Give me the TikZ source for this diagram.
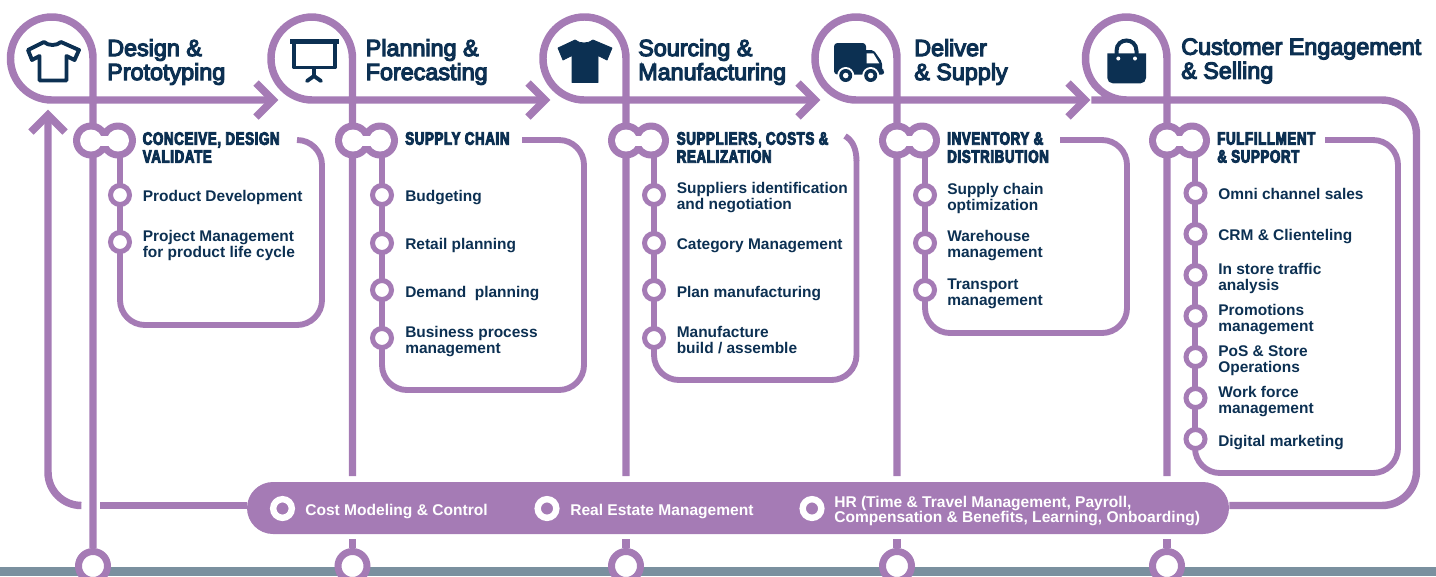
\documentclass[tikz,border=0pt]{standalone}
\usepackage{fontspec}
\setmainfont{Liberation Sans}
\newfontfamily\titlef{Liberation Sans}[FakeBold=5]
\newfontfamily\itemf{Liberation Sans}[UprightFont=* Bold]
\newfontfamily\headf{Liberation Sans}[UprightFont=* Bold,FakeStretch=0.74,FakeBold=5,LetterSpace=3.5]
\definecolor{pur}{HTML}{A57BB5}
\definecolor{navy}{HTML}{0C3052}
\definecolor{band}{HTML}{7A909F}
\tikzset{
  mainline/.style={draw=pur,line width=5.6pt,line join=miter},
  boxline/.style={draw=pur,line width=4.4pt,rounded corners=18.75pt},
  chevron/.style={draw=pur,line width=5.6pt,miter limit=4},
  ringnode/.style={circle,draw=pur,fill=white,line width=3.75pt,minimum size=14.25pt,inner sep=0pt},
  footring/.style={circle,draw=pur,fill=white,line width=5.25pt,minimum size=21.75pt,inner sep=0pt},
  pillring/.style={circle,draw=white,fill=pur,line width=4.8pt,minimum size=14pt,inner sep=0pt},
  pillbox/.style={fill=pur,rounded corners=19.5pt,minimum width=736.5pt,minimum height=39pt,inner sep=0pt},
  titletext/.style={anchor=west,inner sep=0pt,align=left,text=navy,font=\titlef\fontsize{17.5}{18}\selectfont},
  headtext/.style={anchor=west,inner sep=0pt,align=left,text=navy,font=\headf\fontsize{13.5}{13.5}\selectfont},
  itemtext/.style={anchor=west,inner sep=0pt,align=left,text=navy,font=\itemf\fontsize{11.6}{12}\selectfont},
  pilltext/.style={anchor=west,inner sep=0pt,align=left,text=white,font=\itemf\fontsize{11.67}{10.5}\selectfont},
  iconline/.style={draw=navy,line width=2.9pt,line join=round,line cap=round},
  iconfill/.style={fill=navy,draw=navy,line width=.6pt,line join=round},
}
\newcommand{\eightloop}[2]{%
  \fill[pur] (#1,140.5) circle[radius=18] (#2,140.5) circle[radius=18];
  \fill[pur] (#1,131) rectangle (#2,150);
  \fill[white] (#1,140.5) circle[radius=11] (#2,140.5) circle[radius=11];
  \fill[white] (#1,135.5) rectangle (#2,145.5);
}
\begin{document}
\begin{tikzpicture}[x=.75pt,y=-.75pt]
\useasboundingbox (0,0) rectangle (1436,576);
\fill[band] (0,567) rectangle (1436,576);

% pill and foot rings
\node[pillbox] (pill) at (738,508) {};
\foreach \n/\x in {a/93,b/352.5,c/626,d/897,e/1167}
  \node[footring] (f\n) at (\x,566) {};

% free ends
\coordinate (t1) at (273,100); \coordinate (t2) at (545,100);
\coordinate (t3) at (815,100); \coordinate (t4) at (1085,100);
\coordinate (up) at (48,115);
\coordinate (retL) at (100,505.5); \coordinate (retR) at (81,505.5);

% stage 1
\draw[mainline] (t1) -- (52,100) [rounded corners=31pt] -- (10.5,100) -- (10.5,17) -- (93,17) [rounded corners=0pt] -- (93,100) -- (fa.north);
% stage 2
\draw[mainline] (t2) -- (312,100) [rounded corners=31pt] -- (271,100) -- (271,17) -- (352.5,17) [rounded corners=0pt] -- (352.5,100) -- (352.5,476);
\draw[mainline] (352.5,539) -- (fb.north);
% stage 3
\draw[mainline] (t3) -- (585,100) [rounded corners=31pt] -- (543,100) -- (543,17) -- (626,17) [rounded corners=0pt] -- (626,100) -- (626,476);
\draw[mainline] (626,539) -- (fc.north);
% stage 4
\draw[mainline] (t4) -- (856,100) [rounded corners=31pt] -- (815,100) -- (815,17) -- (897,17) [rounded corners=0pt] -- (897,100) -- (897,476);
\draw[mainline] (897,539) -- (fd.north);
% stage 5 and return
\draw[mainline] (pill.east |- 0,505.5) [rounded corners=26pt] -- (1416.5,505.5) -- (1416.5,100) -- (1126,100) [rounded corners=31pt] -- (1085.5,100) -- (1085.5,17) -- (1167,17) [rounded corners=0pt] -- (1167,100) -- (1167,476);
\draw[mainline] (1167,539) -- (fe.north);
\draw[mainline] (pill.west |- 0,505.5) -- (retL);
\draw[mainline,rounded corners=25pt] (retR) -- (48,505.5) -- (up);

% arrow heads
\draw[chevron] (256,83) -- (t1) -- (256,117);
\draw[chevron] (528,83) -- (t2) -- (528,117);
\draw[chevron] (798,83) -- (t3) -- (798,117);
\draw[chevron] (1068,83) -- (t4) -- (1068,117);
\draw[chevron] (31,132) -- (up) -- (65,132);

% boxes
\draw[boxline] (297,140) -- (322,140) -- (322,325) -- (120,325) -- (120,150);
\draw[boxline] (522,140) -- (584,140) -- (584,390) -- (382,390) -- (382,150);
\draw[boxline] (856.5,160) -- (856.5,380) -- (654,380) -- (654,150);
\draw[draw=pur,line width=4.4pt] (845,136) .. controls (852,140) and (856.5,148) .. (856.5,161);
\draw[boxline] (1060,140) -- (1127,140) -- (1127,333) -- (925,333) -- (925,150);
\draw[boxline] (1325,140) -- (1398,140) -- (1398,473) -- (1195,473) -- (1195,150);

% figure-eight loops
\eightloop{91}{118}
\eightloop{353}{380}
\eightloop{626}{651}
\eightloop{897}{922}
\eightloop{1167}{1192}

% rings on boxes
\foreach \n/\y in {1/195,2/242} \node[ringnode] (ra\n) at (120,\y) {};
\foreach \n/\y in {1/195,2/243,3/290,4/338} \node[ringnode] (rb\n) at (382,\y) {};
\foreach \n/\y in {1/195,2/243,3/290,4/338} \node[ringnode] (rc\n) at (654,\y) {};
\foreach \n/\y in {1/195,2/243,3/290} \node[ringnode] (rd\n) at (925,\y) {};
\foreach \n/\y in {1/193,2/234,3/275,4/316,5/357,6/398,7/439} \node[ringnode] (re\n) at (1195.5,\y) {};

% icon 1: outlined shirt
\draw[iconline] (28,50) -- (44,42) .. controls (48,46) and (57,46) .. (61,42) -- (79,50) -- (74.5,60) -- (66.5,56) -- (66.5,80.5) -- (39.5,80.5) -- (39.5,56) -- (32,60) -- cycle;
% icon 2: presentation board
\fill[navy] (289.5,39) rectangle (339,43.5);
\draw[iconline,line cap=butt] (294,43) -- (294,67.5) -- (335,67.5) -- (335,43);
\draw[iconline] (314,68) -- (314,76) (307,81) -- (314,76) -- (321,81);
% icon 3: solid shirt
\fill[iconfill] (558,48) -- (575,40) .. controls (580,44) and (588,44) .. (593,40) -- (612,48) -- (607,60) -- (598,55.5) -- (598,82.5) -- (572,82.5) -- (572,55.5) -- (563,60) -- cycle;
% icon 4: truck
\fill[navy,rounded corners=2.5pt] (834,43) rectangle (866,74.5);
\fill[navy,rounded corners=1.5pt] (864,50) -- (873.5,50) -- (882,62) -- (882,70) -- (884,70) -- (884,74.5) -- (864,74.5) -- cycle;
\fill[white] (866.7,53.3) -- (873.3,53.3) -- (879.3,63.3) -- (866.7,63.3) -- cycle;
\fill[white] (845.7,75.5) circle[radius=8.5] (870.7,75.5) circle[radius=8.5];
\fill[navy] (845.7,75.5) circle[radius=6.5] (870.7,75.5) circle[radius=6.5];
\fill[white] (845.7,75.5) circle[radius=2.8] (870.7,75.5) circle[radius=2.8];
% icon 5: bag
\draw[navy,line width=3pt] (1116.5,54) -- (1116.5,51) .. controls (1116.5,37) and (1136.5,37) .. (1136.5,51) -- (1136.5,54);
\fill[navy,rounded corners=4pt] (1107.3,53.3) [sharp corners] -- (1146,53.3) [rounded corners=4pt] -- (1146,83.3) -- (1107.3,83.3) [sharp corners] -- cycle;
\fill[white] (1118.3,58.5) circle[radius=2] (1135,58.5) circle[radius=2];

% titles
\node[titletext] (h1) at (107,62) {Design \&\\Prototyping};
\node[titletext] (h2) at (365.5,62) {Planning \&\\Forecasting};
\node[titletext] (h3) at (638,62) {Sourcing \&\\Manufacturing};
\node[titletext] (h4) at (914,62) {Deliver\\\& Supply};
\node[titletext] (h5) at (1181,61) {Customer Engagement\\\& Selling};

% headings
\node[headtext] (s1) at (142.5,147.5) {CONCEIVE, DESIGN\\VALIDATE};
\node[headtext] (s2) at (405,138.5) {SUPPLY CHAIN};
\node[headtext] (s3) at (676.5,147.5) {SUPPLIERS, COSTS \&\\REALIZATION};
\node[headtext] (s4) at (947,147.5) {INVENTORY \&\\DISTRIBUTION};
\node[headtext] (s5) at (1217,147.5) {FULFILLMENT\\\& SUPPORT};

% items
\node[itemtext] (a1) at (142.5,197.5) {Product Development};
\node[itemtext] (a2) at (142.5,245) {Project Management\\for product life cycle};
\node[itemtext] (b1) at (405,197.5) {Budgeting};
\node[itemtext] (b2) at (405,245.5) {Retail planning};
\node[itemtext] (b3) at (405,294) {Demand\ \ planning};
\node[itemtext] (b4) at (405,342) {Business process\\management};
\node[itemtext] (c1) at (676.5,198) {Suppliers identification\\and negotiation};
\node[itemtext] (c2) at (676.5,245.5) {Category Management};
\node[itemtext] (c3) at (676.5,294) {Plan manufacturing};
\node[itemtext] (c4) at (676.5,340) {Manufacture\\build / assemble};
\node[itemtext] (d1) at (947,198) {Supply chain\\optimization};
\node[itemtext] (d2) at (947,246) {Warehouse\\management};
\node[itemtext] (d3) at (947,294) {Transport\\management};
\node[itemtext] (e1) at (1218,194) {Omni channel sales};
\node[itemtext] (e2) at (1218,236.5) {CRM \& Clienteling};
\node[itemtext] (e3) at (1218,278) {In store traffic\\analysis};
\node[itemtext] (e4) at (1218,320) {Promotions\\management};
\node[itemtext] (e5) at (1218,361) {PoS \& Store\\Operations};
\node[itemtext] (e6) at (1218,402) {Work force\\management};
\node[itemtext] (e7) at (1218,443) {Digital marketing};

% pill contents
\node[pillring] (p1) at (282.5,508.5) {};
\node[pillring] (p2) at (547,508.5) {};
\node[pillring] (p3) at (812,508.5) {};
\node[pilltext] (pt1) at (305,511.5) {Cost Modeling \& Control};
\node[pilltext] (pt2) at (570,511.5) {Real Estate Management};
\node[pilltext] (pt3) at (834,511) {HR (Time \& Travel Management, Payroll,\\Compensation \& Benefits, Learning, Onboarding)};
\end{tikzpicture}
\end{document}
